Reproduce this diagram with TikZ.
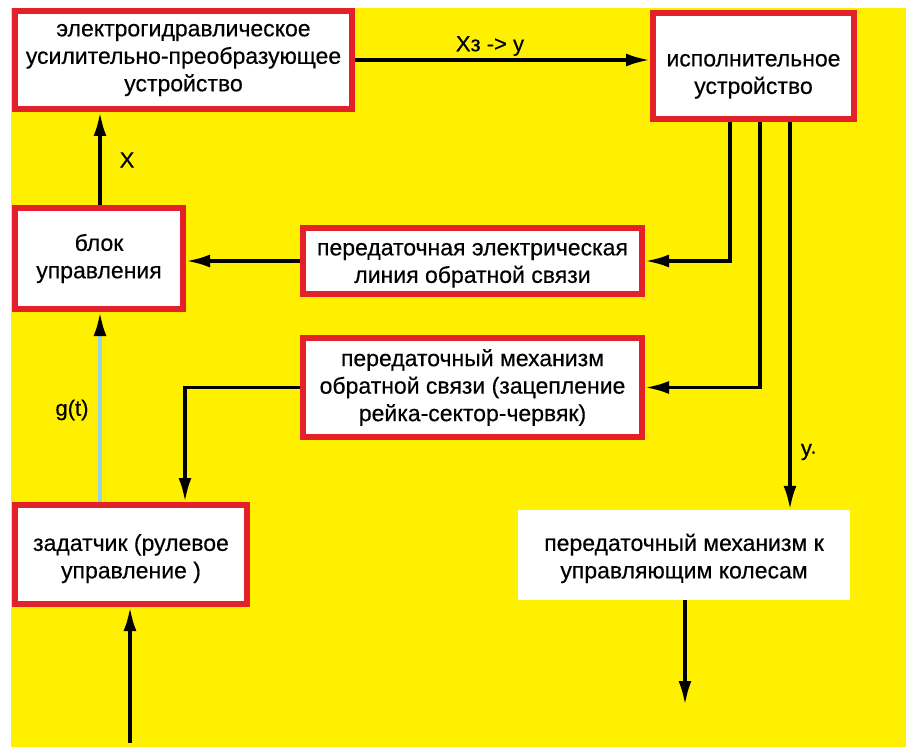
\documentclass[tikz,border=0pt]{standalone}
\usepackage{fontspec}
\setmainfont[FakeBold=0.4]{Liberation Sans}
\usetikzlibrary{arrows.meta}
\definecolor{bgyellow}{RGB}{255,240,0}
\definecolor{boxred}{RGB}{228,32,40}
\definecolor{lblue}{RGB}{150,210,232}
\begin{document}
\begin{tikzpicture}[x=1pt,y=-1pt,
  blk/.style={rectangle,draw=boxred,line width=6pt,fill=white,align=center,
    inner sep=0pt,font=\fontsize{23}{27.5}\selectfont},
  plain/.style={rectangle,draw=none,fill=white,align=center,inner sep=0pt,
    font=\fontsize{23}{27.5}\selectfont},
  arr/.style={line width=3.5pt,-{Latex[length=24pt,width=13pt]}},
  lbl/.style={font=\fontsize{22}{24}\selectfont,inner sep=0pt}]
\useasboundingbox (0,0) rectangle (906,749);
\fill[white] (0,0) rectangle (906,749);
\fill[bgyellow] (11,8) rectangle (906,747);

\node[blk,minimum width=337pt,minimum height=98pt] (b1) at (183.5,60)
  {электрогидравлическое\\усилительно-преобразующее\\устройство};
\node[blk,minimum width=201pt,minimum height=106pt] (b2) at (753.5,66)
  {\rule{0pt}{33pt}исполнительное\\устройство};
\node[blk,minimum width=168pt,minimum height=101pt] (b3) at (99,258.5)
  {блок\\управления};
\node[blk,minimum width=339pt,minimum height=66pt] (b4) at (472.5,261)
  {\rule{0pt}{21pt}передаточная электрическая\\линия обратной связи};
\node[blk,minimum width=339pt,minimum height=99pt] (b5) at (472.5,387.5)
  {передаточный механизм\\обратной связи (зацепление\\рейка-сектор-червяк)};
\node[blk,minimum width=232pt,minimum height=99pt] (b6) at (131,554.5)
  {\rule{0pt}{25pt}задатчик (рулевое\\управление )};
\node[plain,minimum width=332pt,minimum height=90pt] (b7) at (684,555)
  {\rule{0pt}{24pt}передаточный механизм к\\управляющим колесам};

\coordinate (x100) at (100,0);
\coordinate (x130) at (130,0);
\coordinate (x185) at (185,0);
\coordinate (x730) at (730,0);
\coordinate (x760) at (760,0);
\coordinate (x790) at (790,0);
\coordinate (x685) at (685,0);
\coordinate (inbot) at (130,743);
\coordinate (outbot) at (685,705);

\node[lbl] (lx) at (490,46) {Xз -> y};
\node[lbl] (lX) at (127,160) {X};
\node[lbl] (lg) at (72,410) {g(t)};
\node[lbl] (ly) at (808,452) {y{\fontsize{9}{9}\selectfont •}};

% b1 -> b2
\draw[arr] (b1.east |- 0,60) -- (b2.west |- 0,60);
% b3 -> b1
\draw[arr] (b3.north -| x100) -- (b1.south -| x100);
% b2 -> b4
\draw[arr] (b2.south -| x730) |- (b4.east);
% b2 -> b5
\draw[arr] (b2.south -| x760) |- (b5.east);
% b2 -> b7
\draw[arr] (b2.south -| x790) -- (b7.north -| x790);
% b4 -> b3
\draw[arr] (b4.west) -- (b3.east |- b4.west);
% b5 -> b6
\draw[arr] (b5.west) -| (b6.north -| x185);
% b6 -> b3 (light blue)
\draw[line width=3.5pt,lblue,-{Latex[length=24pt,width=13pt,color=black]}]
  (b6.north -| x100) -- (b3.south -| x100);
% input to b6
\draw[arr] (inbot) -- (b6.south -| x130);
% b7 output
\draw[arr] (b7.south -| x685) -- (outbot);
\end{tikzpicture}
\end{document}
